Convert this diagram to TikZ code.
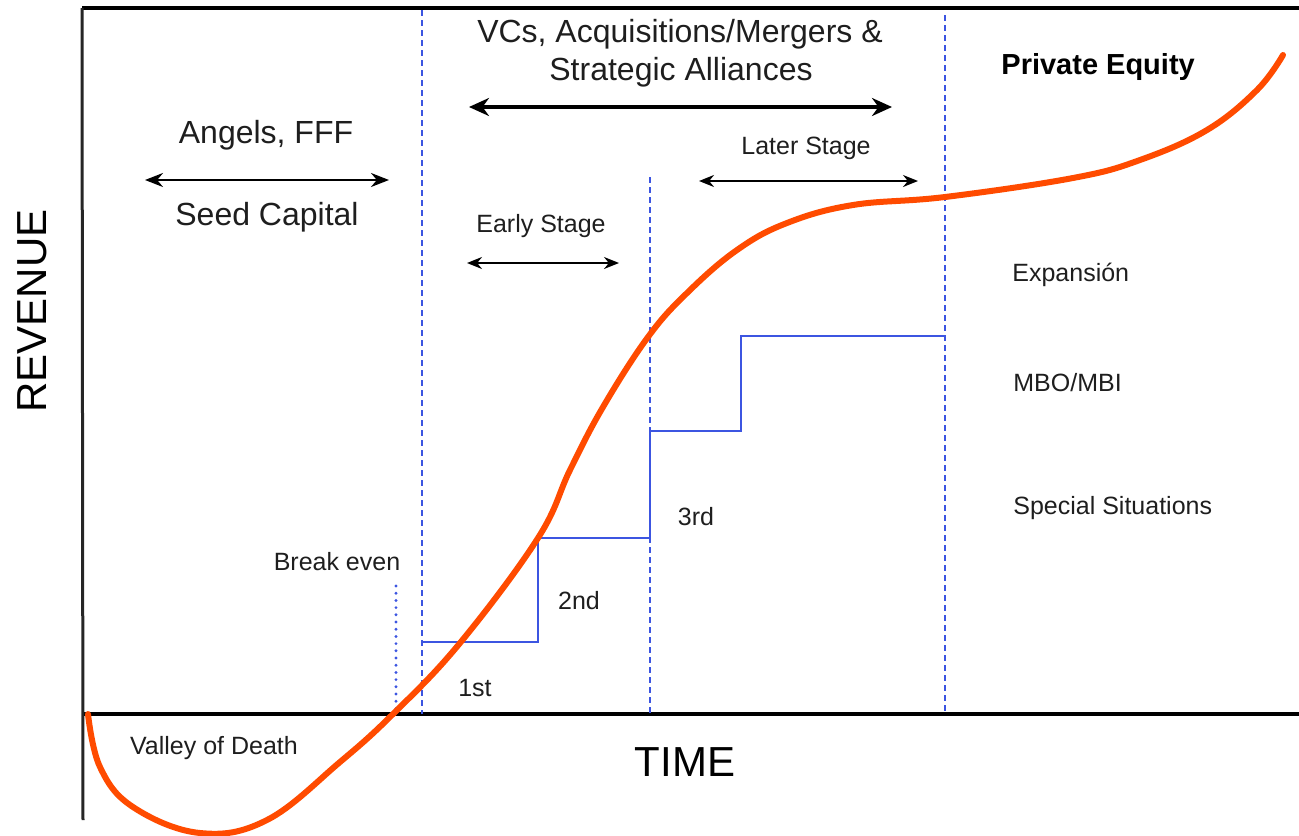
\documentclass[tikz,border=0pt]{standalone}
\usepackage{fontspec}
\setmainfont{Liberation Sans}
\usetikzlibrary{arrows.meta}
\definecolor{curveorange}{RGB}{255,75,0}
\definecolor{stageblue}{RGB}{60,85,225}
\definecolor{txtgray}{RGB}{30,30,30}
\begin{document}
\begin{tikzpicture}[x=0.5pt,y=-0.5pt,
  axisline/.style={line width=2.2pt,black},
  leftaxis/.style={line width=1.5pt,black!85},
  phase/.style={stageblue,line width=1.2pt,dash pattern=on 3pt off 2pt},
  breakline/.style={stageblue,line width=1.6pt,line cap=round,dash pattern=on 0pt off 3.6pt},
  stair/.style={stageblue,line width=1.25pt},
  growth/.style={curveorange,line width=3pt,line cap=round},
  bigarrow/.style={line width=1.6pt,{Stealth[length=10pt,width=9pt]}-{Stealth[length=10pt,width=9pt]}},
  midarrow/.style={line width=1.1pt,{Stealth[length=9pt,width=7pt]}-{Stealth[length=9pt,width=7pt]}},
  smallarrow/.style={line width=1pt,{Stealth[length=7.5pt,width=6pt]}-{Stealth[length=7.5pt,width=6pt]}},
  bigtxt/.style={font=\fontsize{16}{19}\selectfont,text=txtgray,inner sep=0pt},
  smalltxt/.style={font=\fontsize{12.5}{15}\selectfont,text=txtgray,inner sep=0pt},
  axistxt/.style={font=\fontsize{21}{25}\selectfont,text=black,inner sep=0pt}
]
\useasboundingbox (0,0) rectangle (1299,835);

% axes
\coordinate (topL) at (82,8);
\coordinate (topR) at (1299,8);
\coordinate (botL) at (83,714);
\coordinate (botR) at (1299,714);
\coordinate (leftEnd) at (83,820);
\draw[axisline] (topL) -- (topR);
\draw[axisline] (botL) -- (botR);
\draw[leftaxis] (topL) -- (leftEnd);

% phase separators
\coordinate (p1t) at (422,10);  \coordinate (p1b) at (422,714);
\coordinate (p2t) at (650,177); \coordinate (p2b) at (650,714);
\coordinate (p3t) at (945,15);  \coordinate (p3b) at (945,714);
\coordinate (bet) at (396,586); \coordinate (beb) at (396,714);
\draw[phase] (p1t) -- (p1b);
\draw[phase] (p2t) -- (p2b);
\draw[phase] (p3t) -- (p3b);
\draw[breakline] (bet) -- (beb);

% staircase of funding rounds
\coordinate (s0) at (422,642);
\coordinate (s1) at (538,642);
\coordinate (s2) at (538,538);
\coordinate (s3) at (650,538);
\coordinate (s4) at (650,431);
\coordinate (s5) at (741,431);
\coordinate (s6) at (741,336);
\coordinate (s7) at (945,336);
\draw[stair] (s0) -- (s1) -- (s2) -- (s3) -- (s4) -- (s5) -- (s6) -- (s7);

% growth curve
\draw[growth] plot[smooth,tension=0.65] coordinates {
 (88,714) (100,767) (133,807) (200,833) (267,820) (340,762)
 (393,714) (460,643) (538,538) (570,470) (603,407)
 (648,337) (687,293) (737,250) (787,223) (853,205) (945,197)
 (1073,178) (1140,160) (1207,130) (1257,90) (1283,55)};

% labels
\node[axistxt,rotate=90] (rev) at (32,311) {REVENUE};
\node[axistxt] (time) at (685,762) {TIME};

\node[bigtxt] (angels) at (266,135) {Angels, FFF};
\node[bigtxt] (seed) at (267,217) {Seed Capital};
\coordinate (aL) at (145,180); \coordinate (aR) at (389,180);
\draw[midarrow] (aL) -- (aR);

\node[bigtxt] (vc1) at (680,34) {VCs, Acquisitions/Mergers \&};
\node[bigtxt] (vc2) at (681,72) {Strategic Alliances};
\coordinate (vL) at (469,107); \coordinate (vR) at (892,107);
\draw[bigarrow] (vL) -- (vR);

\node[smalltxt] (later) at (806,148) {Later Stage};
\coordinate (lL) at (699,181); \coordinate (lR) at (918,181);
\draw[smallarrow] (lL) -- (lR);

\node[smalltxt] (early) at (541,226) {Early Stage};
\coordinate (eL) at (467,263); \coordinate (eR) at (619,263);
\draw[smallarrow] (eL) -- (eR);

\node[font=\fontsize{14.5}{17}\selectfont\bfseries,text=black,inner sep=0pt,anchor=west] (pe) at (1001,67) {Private Equity};
\node[smalltxt,anchor=west] (exp) at (1012,275) {Expansión};
\node[smalltxt,anchor=west] (mbo) at (1013,383) {MBO/MBI};
\node[smalltxt,anchor=west] (spec) at (1013,508) {Special Situations};

\node[smalltxt] (be) at (337,562) {Break even};
\node[smalltxt] (vod) at (214,748) {Valley of Death};

\node[smalltxt] (r1) at (475,688) {1st};
\node[smalltxt] (r2) at (579,601) {2nd};
\node[smalltxt] (r3) at (696,517) {3rd};
\end{tikzpicture}
\end{document}
